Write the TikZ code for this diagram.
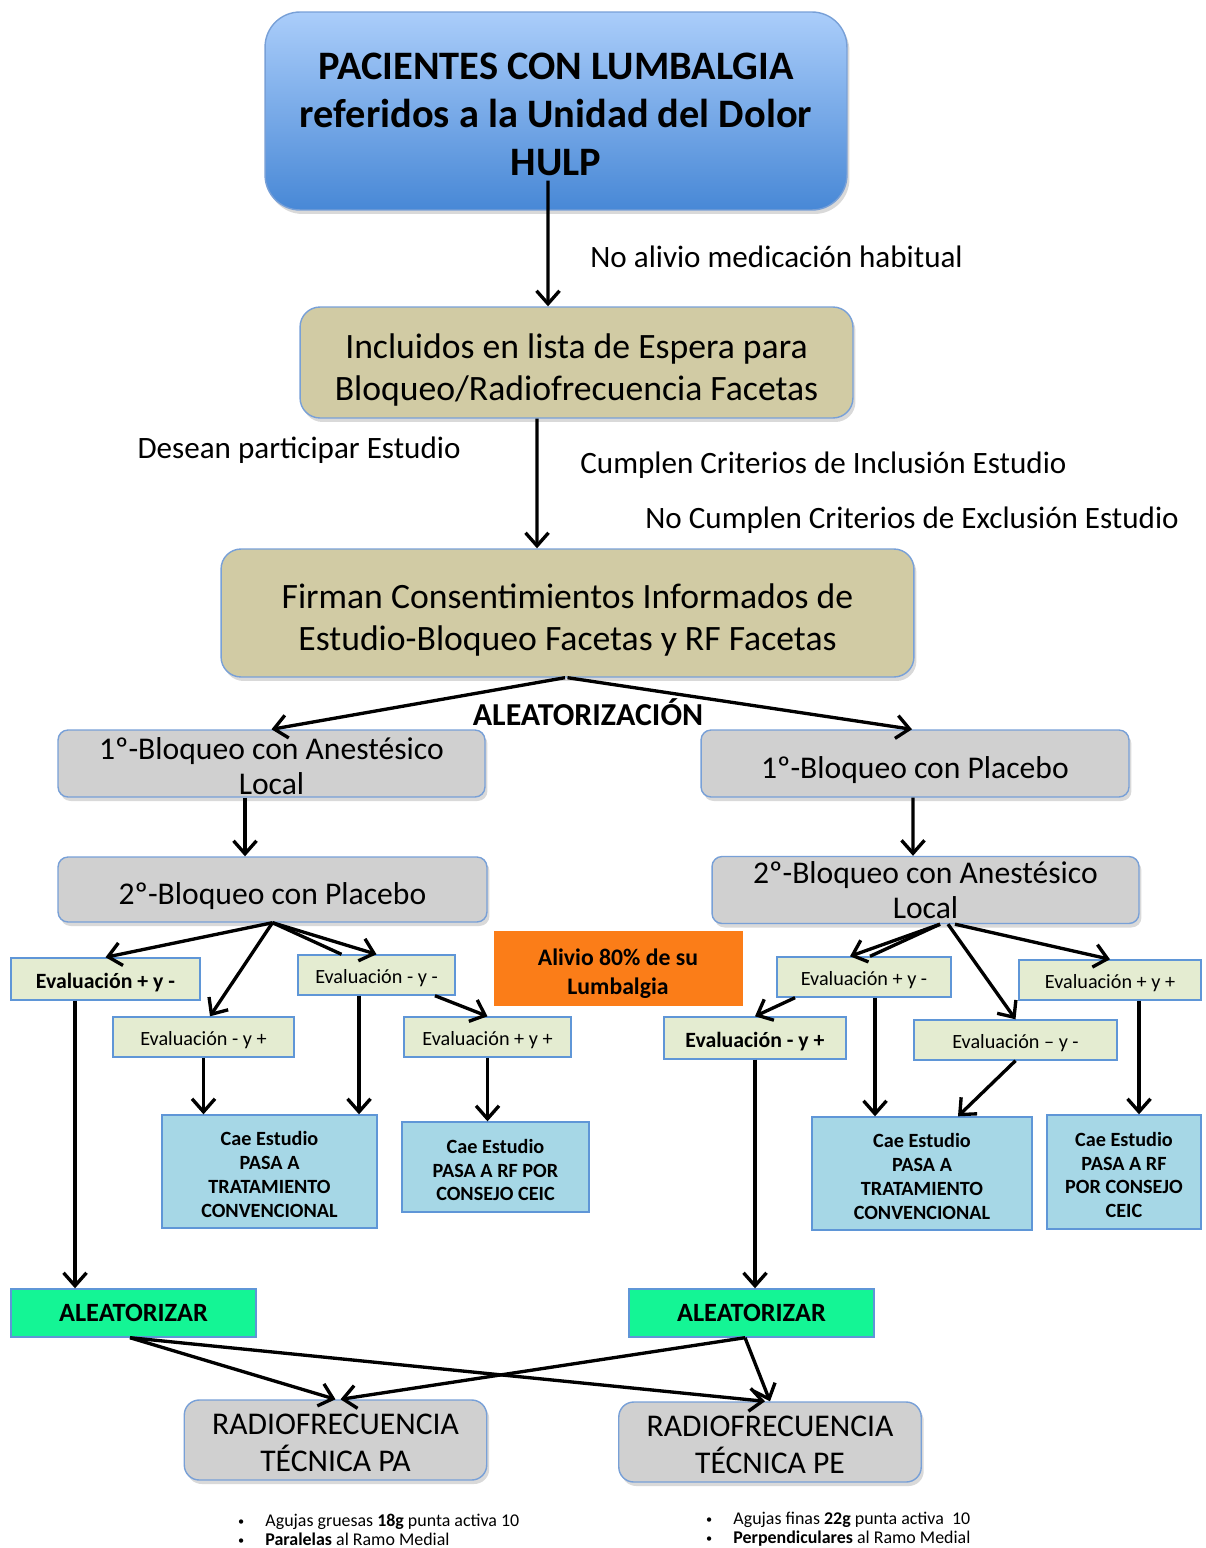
\documentclass[tikz,border=0pt]{standalone}
\usepackage{fontspec}
\setmainfont{Carlito}
\usetikzlibrary{arrows.meta,shadows}

\definecolor{boxblue}{RGB}{120,160,215}
\definecolor{topdark}{RGB}{72,136,214}
\definecolor{toplight}{RGB}{170,205,250}
\definecolor{tanfill}{RGB}{209,203,164}
\definecolor{boxgray}{RGB}{208,208,208}
\definecolor{evalblue}{RGB}{95,150,215}
\definecolor{evalgreen}{RGB}{228,236,209}
\definecolor{caeblue}{RGB}{166,215,230}
\definecolor{randgreen}{RGB}{20,245,149}
\definecolor{orangefill}{RGB}{251,125,24}

\tikzset{
  arr/.style={line width=1.9pt,-{Straight Barb[length=2.6mm,width=4.6mm]}},
  plain/.style={line width=1.9pt},
  low/.style={execute at begin node={\rule{0pt}{#1}}},
  rbox/.style={draw=boxblue,line width=0.8pt,rounded corners=0.4cm,align=center,inner sep=0pt,
    drop shadow={shadow xshift=0.5mm,shadow yshift=-0.8mm,opacity=0.3}},
  tanbox/.style={rbox,fill=tanfill,font=\fontsize{20.3}{24}\selectfont},
  graybox/.style={rbox,fill=boxgray,rounded corners=0.2cm,font=\fontsize{18}{20}\selectfont},
  evalbox/.style={draw=evalblue,line width=0.8pt,fill=evalgreen,inner sep=0pt,minimum height=0.8cm,
    low=1em,font=\fontsize{11.5}{14}\selectfont},
  caebox/.style={draw=evalblue,line width=0.8pt,fill=caeblue,align=center,inner sep=0pt,
    font=\bfseries\fontsize{11.5}{13.6}\selectfont},
  randbox/.style={draw=evalblue,line width=0.8pt,fill=randgreen,inner sep=0pt,minimum width=4.9cm,
    minimum height=0.96cm,font=\bfseries\fontsize{15}{18}\selectfont},
  rfbox/.style={graybox,rounded corners=0.3cm,minimum width=6.05cm,minimum height=1.6cm,
    font=\fontsize{18}{21}\selectfont},
  lbl/.style={inner sep=0pt,font=\fontsize{17.7}{21}\selectfont},
  note/.style={font=\fontsize{10.2}{10.8}\selectfont,align=left,anchor=west}
}
\newcommand{\bul}{\makebox[15.5pt][l]{\raisebox{0.5pt}{\fontsize{7}{7}\selectfont\textbullet}}}
\newcommand{\dn}[1]{\rule{0pt}{#1}}

\begin{document}
\begin{tikzpicture}[x=0.02cm,y=-0.02cm]
\useasboundingbox (0,0) rectangle (1205,1548);
% Draw the top part
\node[rbox,top color=toplight,bottom color=topdark,rounded corners=0.7cm,minimum width=11.64cm,minimum height=3.96cm,
  font=\bfseries\fontsize{23}{27.2}\selectfont] (pacientes) at (556,111)
  {\dn{19pt}PACIENTES CON LUMBALGIA\\referidos a la Unidad del Dolor\\HULP};
\node[tanbox,minimum width=11.06cm,minimum height=2.22cm] (espera) at (576.5,362.5)
  {\dn{22.5pt}Incluidos en lista de Espera para\\Bloqueo/Radiofrecuencia Facetas};
\node[tanbox,minimum width=13.86cm,minimum height=2.56cm] (firman) at (567.5,613)
  {\dn{22.5pt}Firman Consentimientos Informados de\\Estudio-Bloqueo Facetas y RF Facetas};
\node[lbl,anchor=west] (noalivio) at (590,257) {No alivio medicación habitual};
\node[lbl] (desean) at (299,450) {Desean participar Estudio};
\node[lbl,anchor=west] (cumplen) at (580,465) {Cumplen Criterios de Inclusión Estudio};
\node[lbl,anchor=west] (nocumplen) at (645,520) {No Cumplen Criterios de Exclusión Estudio};
\draw[arr] ([xshift=-0.16cm,yshift=0.6cm]pacientes.south) -- ([xshift=-0.57cm]espera.north);
\draw[arr] ([xshift=-0.79cm]espera.south) -- ([xshift=-0.61cm]firman.north);
% Draw the blocks
\node[graybox,minimum width=8.54cm,minimum height=1.34cm] (bloqA1) at (271.5,763.5) {\dn{15pt}1º-Bloqueo con Anestésico\\Local};
\node[graybox,minimum width=8.56cm,minimum height=1.34cm,low=1.1em] (bloqP1) at (915,763.5) {1º-Bloqueo con Placebo};
\node[graybox,minimum width=8.58cm,minimum height=1.30cm,low=1.1em] (bloqP2) at (272.5,889.5) {2º-Bloqueo con Placebo};
\node[graybox,minimum width=8.54cm,minimum height=1.34cm] (bloqA2) at (925.5,890) {2º-Bloqueo con Anestésico\\Local};
\node[font=\bfseries\fontsize{18.2}{20}\selectfont] (aleat) at (588,712) {ALEATORIZACIÓN};
\draw[arr] ([xshift=-0.05cm]firman.south) -- (bloqA1.north);
\draw[arr] (firman.south) -- ([xshift=-0.06cm]bloqP1.north);
\draw[arr] ([xshift=-0.53cm]bloqA1.south) -- ([xshift=-0.55cm]bloqP2.north);
\draw[arr] ([xshift=-0.04cm]bloqP1.south) -- ([xshift=-0.25cm]bloqA2.north);
% Draw the evaluations on the left
\node[evalbox,minimum width=3.78cm,minimum height=0.84cm,font=\bfseries\fontsize{12.4}{14}\selectfont] (evL1) at (105.5,979) {Evaluación + y -};
\node[evalbox,minimum width=3.62cm] (evL2) at (203.5,1037) {Evaluación - y +};
\node[evalbox,minimum width=3.14cm] (evL3) at (376.5,975) {Evaluación - y -};
\node[evalbox,minimum width=3.34cm] (evL4) at (487.5,1037) {Evaluación + y +};
\node[caebox,minimum width=4.30cm,minimum height=2.26cm] (caeL1) at (269.5,1171.5) {\dn{11.5pt}Cae Estudio\\PASA A\\TRATAMIENTO\\CONVENCIONAL};
\node[caebox,minimum width=3.74cm,minimum height=1.80cm] (caeL2) at (495.5,1167) {\dn{11.5pt}Cae Estudio\\PASA A RF POR\\CONSEJO CEIC};
\draw[arr] (bloqP2.south) -- (evL1.north);
\draw[arr] (bloqP2.south) -- ([xshift=0.13cm]evL2.north);
\draw[arr] (bloqP2.south) -- (evL3.north);
\draw[plain] (bloqP2.south) -- ([xshift=-0.7cm]evL3.north);
\draw[arr] ([xshift=1.17cm]evL3.south) -- (evL4.north);
\draw[arr] ([xshift=-0.35cm]evL3.south) -- ([xshift=-0.35cm]evL3.south |- caeL1.north);
\draw[arr] (evL2.south) -- (evL2.south |- caeL1.north);
\draw[arr] (evL4.south) -- (evL4.south |- caeL2.north);
% Draw the middle box
\node[fill=orangefill,draw=orangefill,align=center,minimum width=4.96cm,minimum height=1.48cm,inner sep=0pt,
  font=\bfseries\fontsize{13.5}{16.4}\selectfont] (alivio) at (618,968) {\dn{16.3pt}Alivio 80\% de su\\Lumbalgia};
% Draw the evaluations on the right
\node[evalbox,minimum width=3.48cm] (evR1) at (864,977) {Evaluación + y -};
\node[evalbox,minimum width=3.64cm,minimum height=0.84cm,font=\bfseries\fontsize{12.4}{14}\selectfont] (evR2) at (755,1038) {Evaluación - y +};
\node[evalbox,minimum width=4.06cm] (evR3) at (1015.5,1040) {Evaluación – y -};
\node[evalbox,minimum width=3.64cm] (evR4) at (1110,980) {Evaluación + y +};
\node[caebox,minimum width=4.40cm,minimum height=2.26cm] (caeR1) at (922,1173.5) {\dn{11.5pt}Cae Estudio\\PASA A\\TRATAMIENTO\\CONVENCIONAL};
\node[caebox,minimum width=3.08cm,minimum height=2.28cm] (caeR2) at (1124,1172) {\dn{11.5pt}Cae Estudio\\PASA A RF\\POR CONSEJO\\CEIC};
\draw[arr] ([xshift=0.29cm]bloqA2.south) -- ([xshift=-0.28cm]evR1.north);
\draw[plain] ([xshift=0.29cm]bloqA2.south) -- ([xshift=0.12cm]evR1.north);
\draw[arr] ([xshift=0.45cm]bloqA2.south) -- (evR3.north);
\draw[arr] ([xshift=0.59cm]bloqA2.south) -- (evR4.north);
\draw[arr] ([xshift=-1.38cm]evR1.south) -- (evR2.north);
\draw[arr] ([xshift=0.22cm]evR1.south) -- ([xshift=0.22cm]evR1.south |- caeR1.north);
\draw[arr] (evR3.south) -- ([xshift=0.72cm]caeR1.north);
\draw[arr] ([xshift=0.58cm]evR4.south) -- ([xshift=0.58cm]evR4.south |- caeR2.north);
% Draw the randomization
\node[randbox] (randL) at (133.5,1313) {ALEATORIZAR};
\node[randbox] (randR) at (751.5,1313) {ALEATORIZAR};
\draw[arr] ([xshift=-0.61cm]evL1.south) -- ([xshift=-0.61cm]evL1.south |- randL.north);
\draw[arr] (evR2.south) -- (evR2.south |- randR.north);
% Draw the techniques
\node[rfbox] (rfPA) at (335.5,1440) {\dn{15pt}RADIOFRECUENCIA\\TÉCNICA PA};
\node[rfbox] (rfPE) at (770,1442) {\dn{15pt}RADIOFRECUENCIA\\TÉCNICA PE};
\draw[arr] ([xshift=-0.07cm]randL.south) -- (rfPA.north);
\draw[arr] ([xshift=-0.07cm]randL.south) -- ([xshift=-0.1cm]rfPE.north);
\draw[arr] ([xshift=-0.13cm]randR.south) -- ([xshift=0.1cm]rfPA.north);
\draw[arr] ([xshift=-0.13cm]randR.south) -- (rfPE.north);
\node[note] (notaPA) at (232,1529.5)
  {\bul Agujas gruesas \textbf{18g} punta activa 10\\\bul\textbf{Paralelas} al Ramo Medial};
\node[note] (notaPE) at (700,1529.5)
  {\bul Agujas finas \textbf{22g} punta activa\ \ 10\\\bul\textbf{Perpendiculares} al Ramo Medial};
\end{tikzpicture}
\end{document}
